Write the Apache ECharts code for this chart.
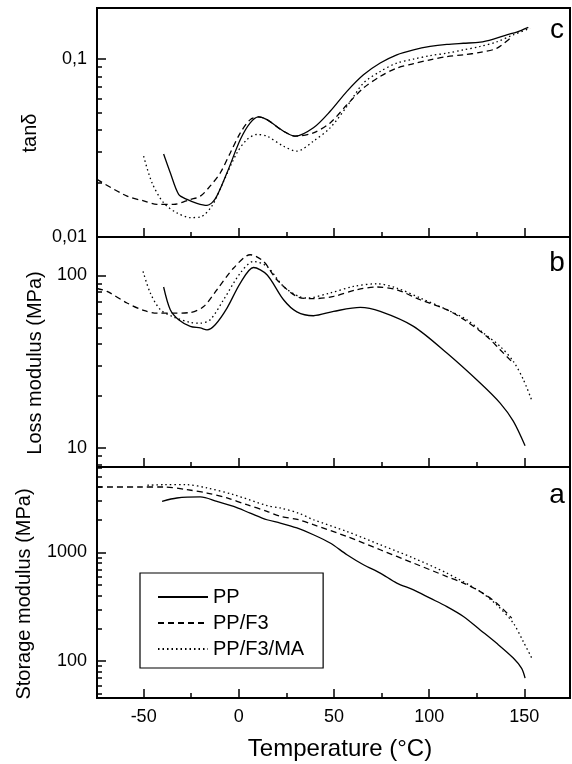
<!DOCTYPE html>
<html><head><meta charset="utf-8">
<script src="https://cdn.jsdelivr.net/npm/echarts@6/dist/echarts.min.js"></script>
<style>html,body{margin:0;padding:0;background:#fff}#c{width:572px;height:764px}</style>
</head><body><div id="c"></div>
<script>
const FONT = "'Liberation Sans', Arial, Helvetica, sans-serif";
const seriesNames = ['PP', 'PP/F3', 'PP/F3/MA'];

// ---- Panel c: tan delta ----
const tanPP_T = [-39.5, -36, -31.6, -27.2, -22, -16.7, -12.4, -6.2, 0.8, 6, 10.4, 14.8, 23.5, 29.6, 39.2, 48, 56.8, 65.5, 74.3, 83, 91.8, 100.5, 109.3, 118, 126.8, 133.8, 140.8, 146, 152.1];
const tanPP_V = [0.0292, 0.0229, 0.0173, 0.0162, 0.0154, 0.0150, 0.0163, 0.0229, 0.0352, 0.0437, 0.0472, 0.0456, 0.0392, 0.0368, 0.041, 0.0508, 0.0658, 0.0816, 0.095, 0.1057, 0.1127, 0.1178, 0.121, 0.1228, 0.1245, 0.1296, 0.137, 0.142, 0.151];
const tanF3_T = [-74.5, -58.7, -50, -43, -34.2, -25.5, -20.2, -15, -9.7, -4.5, 0.8, 6, 10.4, 14.8, 23.5, 30, 39.2, 48, 56.8, 65.5, 74.3, 83, 91.8, 100.5, 109.3, 118, 126.8, 135.5, 142.5];
const tanF3_V = [0.021, 0.0169, 0.0159, 0.0152, 0.0152, 0.0162, 0.0169, 0.0193, 0.0229, 0.0296, 0.0384, 0.0456, 0.0472, 0.0456, 0.0392, 0.0368, 0.0384, 0.0437, 0.0553, 0.0687, 0.0799, 0.089, 0.0943, 0.099, 0.1033, 0.1057, 0.109, 0.115, 0.131];
const tanMA_T = [-50, -45.6, -39.5, -32.5, -25.5, -20.2, -14.1, -8, -1, 4.3, 9.5, 14.8, 23.5, 30.5, 39.2, 48, 56.8, 65.5, 74.3, 83, 91.8, 100.5, 109.3, 118, 126.8, 135.5, 144.2, 153];
const tanMA_V = [0.0284, 0.0201, 0.0155, 0.0136, 0.0128, 0.0129, 0.0149, 0.0205, 0.0296, 0.0352, 0.0376, 0.0368, 0.0323, 0.0303, 0.0345, 0.041, 0.0541, 0.0733, 0.0852, 0.095, 0.1, 0.1046, 0.108, 0.1127, 0.1178, 0.125, 0.137, 0.149];

// ---- Panel b: loss modulus (MPa) ----
const lossPP_T = [-39.5, -36, -31.6, -25.5, -20.2, -16.7, -12.4, -6.2, 0.8, 7.7, 14.8, 23.5, 30.5, 39.2, 49.8, 63.8, 74.3, 91.8, 109.3, 126.8, 137.3, 144.2, 150.4];
const lossPP_V = [85.7, 63.3, 55.4, 50.7, 49.6, 48.4, 51.8, 64.7, 90.3, 111.2, 100.9, 72.3, 61.5, 58.4, 61.9, 65.3, 61.9, 50.7, 35.5, 23.8, 18.2, 14.3, 10.3];
const lossF3_T = [-74.5, -69.2, -58.7, -50, -43, -34.2, -25.5, -18.5, -11.5, -2.7, 6, 13, 20, 30.5, 39.2, 49.8, 62, 72.5, 83, 95.3, 109.3, 119.8, 130.3, 137.3, 144.2];
const lossF3_V = [84, 80.8, 69.2, 62.7, 60.5, 60.5, 61, 66, 82.6, 110.4, 131.8, 120.5, 94.4, 75.5, 73.3, 75.6, 82.6, 85.7, 82.6, 72.3, 63.3, 54.1, 44.3, 37.1, 31];
const lossMA_T = [-50.3, -46.5, -41.2, -34.2, -25.5, -20.2, -15, -8, 0.8, 7.7, 14.8, 23.5, 31.4, 35.8, 48, 60.2, 72.5, 83, 95.3, 109.3, 119.8, 128.5, 137.3, 144.2, 149.5, 153.9];
const lossMA_V = [105.5, 79.1, 63.3, 57.4, 53.4, 52.9, 55.4, 72.3, 103.3, 120.5, 112.7, 86.3, 75.6, 74, 79.1, 86.3, 89.5, 84.5, 74, 63.3, 55.4, 46.4, 38.8, 31.8, 24.9, 18.9];

// ---- Panel a: storage modulus (MPa) ----
const storPP_T = [-40.3, -32.5, -20.2, -11.5, -2.7, 6, 14.8, 21.8, 30.5, 39.2, 48, 56.8, 65.5, 74.3, 83, 91.8, 100.5, 109.3, 118, 126.8, 135.5, 144.2, 148.6, 150.4];
const storPP_V = [2950, 3170, 3240, 2950, 2650, 2300, 2000, 1866, 1680, 1456, 1222, 953, 771, 646, 523, 453, 380, 318, 258, 194, 146, 107, 86, 70];
const storF3_T = [-74.5, -51.7, -39.5, -27.2, -16.7, -6.2, 4.3, 14.8, 21.8, 31.4, 39.2, 56.8, 74.3, 91.8, 109.3, 118, 126.8, 135.5, 143.4];
const storF3_V = [4000, 4000, 4000, 3780, 3520, 3170, 2750, 2390, 2150, 2000, 1800, 1403, 1059, 798, 601, 523, 437, 342, 249];
const storMA_T = [-48, -39.5, -27.2, -16.7, -2.7, 14.8, 21.8, 31.4, 39.2, 56.8, 74.3, 91.8, 109.3, 126.8, 135.5, 144.2, 149.5, 153.9];
const storMA_V = [4150, 4200, 4200, 3920, 3400, 2700, 2565, 2300, 2000, 1560, 1178, 888, 646, 437, 330, 224, 151, 107];

// ---- tick values ----
const xMajorTicks = [-50, 0, 50, 100, 150];
const xMinorTicks = [-25, 25, 75, 125];
const tanMajorTicks = [0.01, 0.1];
const tanMinorTicks = [0.02, 0.03, 0.04, 0.05, 0.06, 0.07, 0.08, 0.09];
const lossMajorTicks = [10, 100];
const lossMinorTicks = [8, 9, 20, 30, 40, 50, 60, 70, 80, 90];
const storMajorTicks = [100, 1000];
const storMinorTicks = [50, 60, 70, 80, 90, 200, 300, 400, 500, 600, 700, 800, 900, 2000, 3000, 4000, 5000, 6000];

const xRange = [-74.5, 174];
const panels = [
  { top: 8, height: 229, yMin: 0.00995, yMax: 0.194, major: tanMajorTicks, minor: tanMinorTicks,
    data: [[tanPP_T, tanPP_V], [tanF3_T, tanF3_V], [tanMA_T, tanMA_V]] },
  { top: 237, height: 230, yMin: 7.76, yMax: 167, major: lossMajorTicks, minor: lossMinorTicks,
    data: [[lossPP_T, lossPP_V], [lossF3_T, lossF3_V], [lossMA_T, lossMA_V]] },
  { top: 467, height: 231, yMin: 45.9, yMax: 6110, major: storMajorTicks, minor: storMinorTicks,
    data: [[storPP_T, storPP_V], [storF3_T, storF3_V], [storMA_T, storMA_V]] }
];
const lineTypes = ['solid', [6, 4], [1.5, 3]];

const grids = [], xAxes = [], yAxes = [], series = [];
const hiddenLine = { show: false, onZero: false };
panels.forEach((p, i) => {
  grids.push({ left: 97, right: 2, top: p.top, height: p.height, show: true, borderColor: '#000', borderWidth: 2,
    backgroundColor: 'transparent', containLabel: false, outerBoundsMode: 'none' });
  const isBottom = i === panels.length - 1;
  xAxes.push({ type: 'value', gridIndex: i, position: 'bottom', min: xRange[0], max: xRange[1],
    axisLine: hiddenLine, splitLine: { show: false },
    axisTick: { show: true, inside: true, length: 9, customValues: xMajorTicks, lineStyle: { color: '#000', width: 1.5 } },
    axisLabel: { show: isBottom, customValues: xMajorTicks, margin: 10, color: '#000', fontSize: 18, fontFamily: FONT } });
  xAxes.push({ type: 'value', gridIndex: i, position: 'bottom', min: xRange[0], max: xRange[1],
    axisLine: hiddenLine, splitLine: { show: false },
    axisTick: { show: true, inside: true, length: 5, customValues: xMinorTicks, lineStyle: { color: '#000', width: 1.5 } },
    axisLabel: { show: false } });
  yAxes.push({ type: 'log', logBase: 10, gridIndex: i, position: 'left', min: p.yMin, max: p.yMax,
    axisLine: hiddenLine, splitLine: { show: false }, minorTick: { show: false },
    axisTick: { show: true, inside: true, length: 9, customValues: p.major, lineStyle: { color: '#000', width: 1.5 } },
    axisLabel: { show: true, customValues: p.major, margin: 10, color: '#000', fontSize: 18, fontFamily: FONT,
      formatter: v => String(v).replace('.', ',') } });
  yAxes.push({ type: 'log', logBase: 10, gridIndex: i, position: 'left', min: p.yMin, max: p.yMax,
    axisLine: hiddenLine, splitLine: { show: false }, minorTick: { show: false },
    axisTick: { show: true, inside: true, length: 5, customValues: p.minor, lineStyle: { color: '#000', width: 1.5 } },
    axisLabel: { show: false } });
  p.data.forEach((d, k) => {
    series.push({ name: seriesNames[k], type: 'line', xAxisIndex: 2 * i, yAxisIndex: 2 * i,
      data: d[0].map((t, j) => [t, d[1][j]]), symbol: 'none', showSymbol: false, smooth: 0.3, clip: true,
      itemStyle: { color: '#000' },
      lineStyle: { color: '#000', width: 1.3, type: lineTypes[k] }, silent: true, animation: false });
  });
});

const chart = echarts.init(document.getElementById('c'), null, { renderer: 'canvas' });
chart.setOption({
  animation: false,
  backgroundColor: '#fff',
  grid: grids, xAxis: xAxes, yAxis: yAxes, series: series,
  legend: {
    data: seriesNames, orient: 'vertical', left: 140, top: 573,
    backgroundColor: '#fff', borderColor: '#000', borderWidth: 1.2, borderRadius: 0,
    padding: [14, 19, 9, 17], itemWidth: 50, itemHeight: 16, itemGap: 6,
    selectedMode: false, inactiveColor: '#000',
    itemStyle: { opacity: 0 },
    textStyle: { fontSize: 20, fontFamily: FONT, color: '#000' }
  },
  graphic: [
    { type: 'text', x: 30, y: 133, rotation: Math.PI / 2, style: { text: 'tanδ', fontSize: 20, fontFamily: FONT, fill: '#000', align: 'center', verticalAlign: 'middle' } },
    { type: 'text', x: 35, y: 363, rotation: Math.PI / 2, style: { text: 'Loss modulus (MPa)', fontSize: 20, fontFamily: FONT, fill: '#000', align: 'center', verticalAlign: 'middle' } },
    { type: 'text', x: 24, y: 594, rotation: Math.PI / 2, style: { text: 'Storage modulus (MPa)', fontSize: 20, fontFamily: FONT, fill: '#000', align: 'center', verticalAlign: 'middle' } },
    { type: 'text', x: 340, y: 749, style: { text: 'Temperature (°C)', fontSize: 24, fontFamily: FONT, fill: '#000', align: 'center', verticalAlign: 'middle' } },
    { type: 'text', x: 557, y: 30, style: { text: 'c', fontSize: 28, fontFamily: FONT, fill: '#000', align: 'center', verticalAlign: 'middle' } },
    { type: 'text', x: 557, y: 263, style: { text: 'b', fontSize: 28, fontFamily: FONT, fill: '#000', align: 'center', verticalAlign: 'middle' } },
    { type: 'text', x: 557, y: 495, style: { text: 'a', fontSize: 28, fontFamily: FONT, fill: '#000', align: 'center', verticalAlign: 'middle' } }
  ]
});
</script></body></html>
